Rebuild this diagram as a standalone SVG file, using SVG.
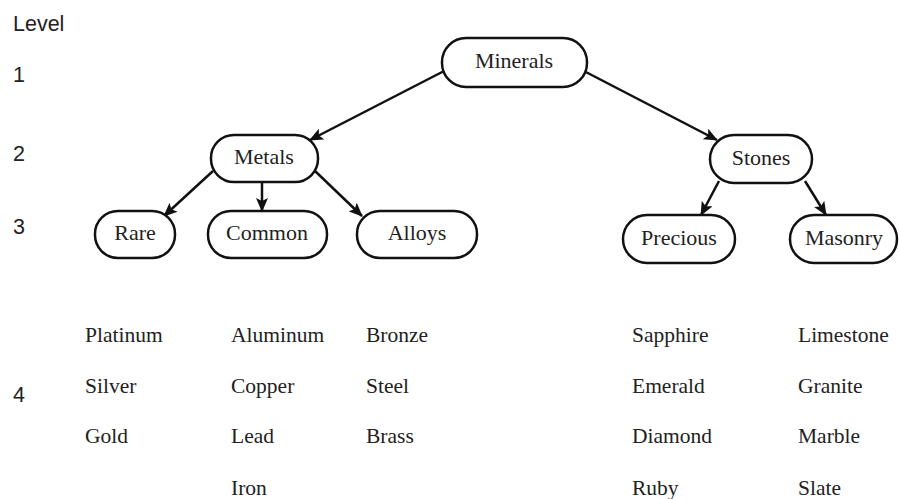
<svg xmlns="http://www.w3.org/2000/svg" width="899" height="499" viewBox="0 0 899 499">
<style>
.node rect{fill:#fff;stroke:#111;stroke-width:2.5}
.node text{font-family:"Liberation Serif","Times New Roman",serif;font-size:22px;fill:#222;text-anchor:middle}
.lvl{font-family:"Liberation Sans",Arial,sans-serif;font-size:21.5px;fill:#222}
.leaf{font-family:"Liberation Serif","Times New Roman",serif;font-size:21.5px;fill:#222}
#connectors path{fill:none;stroke:#111;stroke-width:2.5;marker-end:url(#ah)}
</style>
<defs>
<marker id="ah" markerUnits="userSpaceOnUse" markerWidth="14" markerHeight="12" viewBox="0 0 14 12" refX="13" refY="6" orient="auto">
<path d="M0,0 L14,6 L0,12 L3,6 Z" fill="#111"/>
</marker>
</defs>
<rect width="899" height="499" fill="#fff"/>
<g id="levels">
<text class="lvl" x="13" y="31">Level</text>
<text class="lvl" x="13" y="82">1</text>
<text class="lvl" x="13" y="161">2</text>
<text class="lvl" x="13" y="234">3</text>
<text class="lvl" x="13" y="402">4</text>
</g>
<g id="connectors">
<path d="M446,70 L310,140"/>
<path d="M582,70 L717,140"/>
<path d="M213,171 L164,216"/>
<path d="M262,182 L262,211"/>
<path d="M315,171 L362,216"/>
<path d="M719,181 L701,215"/>
<path d="M805,181 L826,215"/>
</g>
<g id="minerals" class="node"><rect x="442" y="38" width="145" height="49" rx="24"/><text x="514" y="68">Minerals</text></g>
<g id="metals" class="node"><rect x="211" y="135" width="107" height="47" rx="23"/><text x="264" y="164">Metals</text></g>
<g id="stones" class="node"><rect x="710" y="135" width="102" height="48" rx="24"/><text x="761" y="165">Stones</text></g>
<g id="rare" class="node"><rect x="95" y="211" width="80" height="47" rx="23"/><text x="135" y="240">Rare</text></g>
<g id="common" class="node"><rect x="208" y="211" width="119" height="47" rx="23"/><text x="267" y="240">Common</text></g>
<g id="alloys" class="node"><rect x="357" y="211" width="120" height="47" rx="23"/><text x="417" y="240">Alloys</text></g>
<g id="precious" class="node"><rect x="623" y="215" width="112" height="48" rx="24"/><text x="679" y="245">Precious</text></g>
<g id="masonry" class="node"><rect x="790" y="215" width="107" height="48" rx="24"/><text x="844" y="245">Masonry</text></g>
<g id="rare-items">
<text class="leaf" x="85" y="342">Platinum</text>
<text class="leaf" x="85" y="393">Silver</text>
<text class="leaf" x="85" y="443">Gold</text>
</g>
<g id="common-items">
<text class="leaf" x="231" y="342">Aluminum</text>
<text class="leaf" x="231" y="393">Copper</text>
<text class="leaf" x="231" y="443">Lead</text>
<text class="leaf" x="231" y="495">Iron</text>
</g>
<g id="alloys-items">
<text class="leaf" x="366" y="342">Bronze</text>
<text class="leaf" x="366" y="393">Steel</text>
<text class="leaf" x="366" y="443">Brass</text>
</g>
<g id="precious-items">
<text class="leaf" x="632" y="342">Sapphire</text>
<text class="leaf" x="632" y="393">Emerald</text>
<text class="leaf" x="632" y="443">Diamond</text>
<text class="leaf" x="632" y="495">Ruby</text>
</g>
<g id="masonry-items">
<text class="leaf" x="798" y="342">Limestone</text>
<text class="leaf" x="798" y="393">Granite</text>
<text class="leaf" x="798" y="443">Marble</text>
<text class="leaf" x="798" y="495">Slate</text>
</g>
</svg>
